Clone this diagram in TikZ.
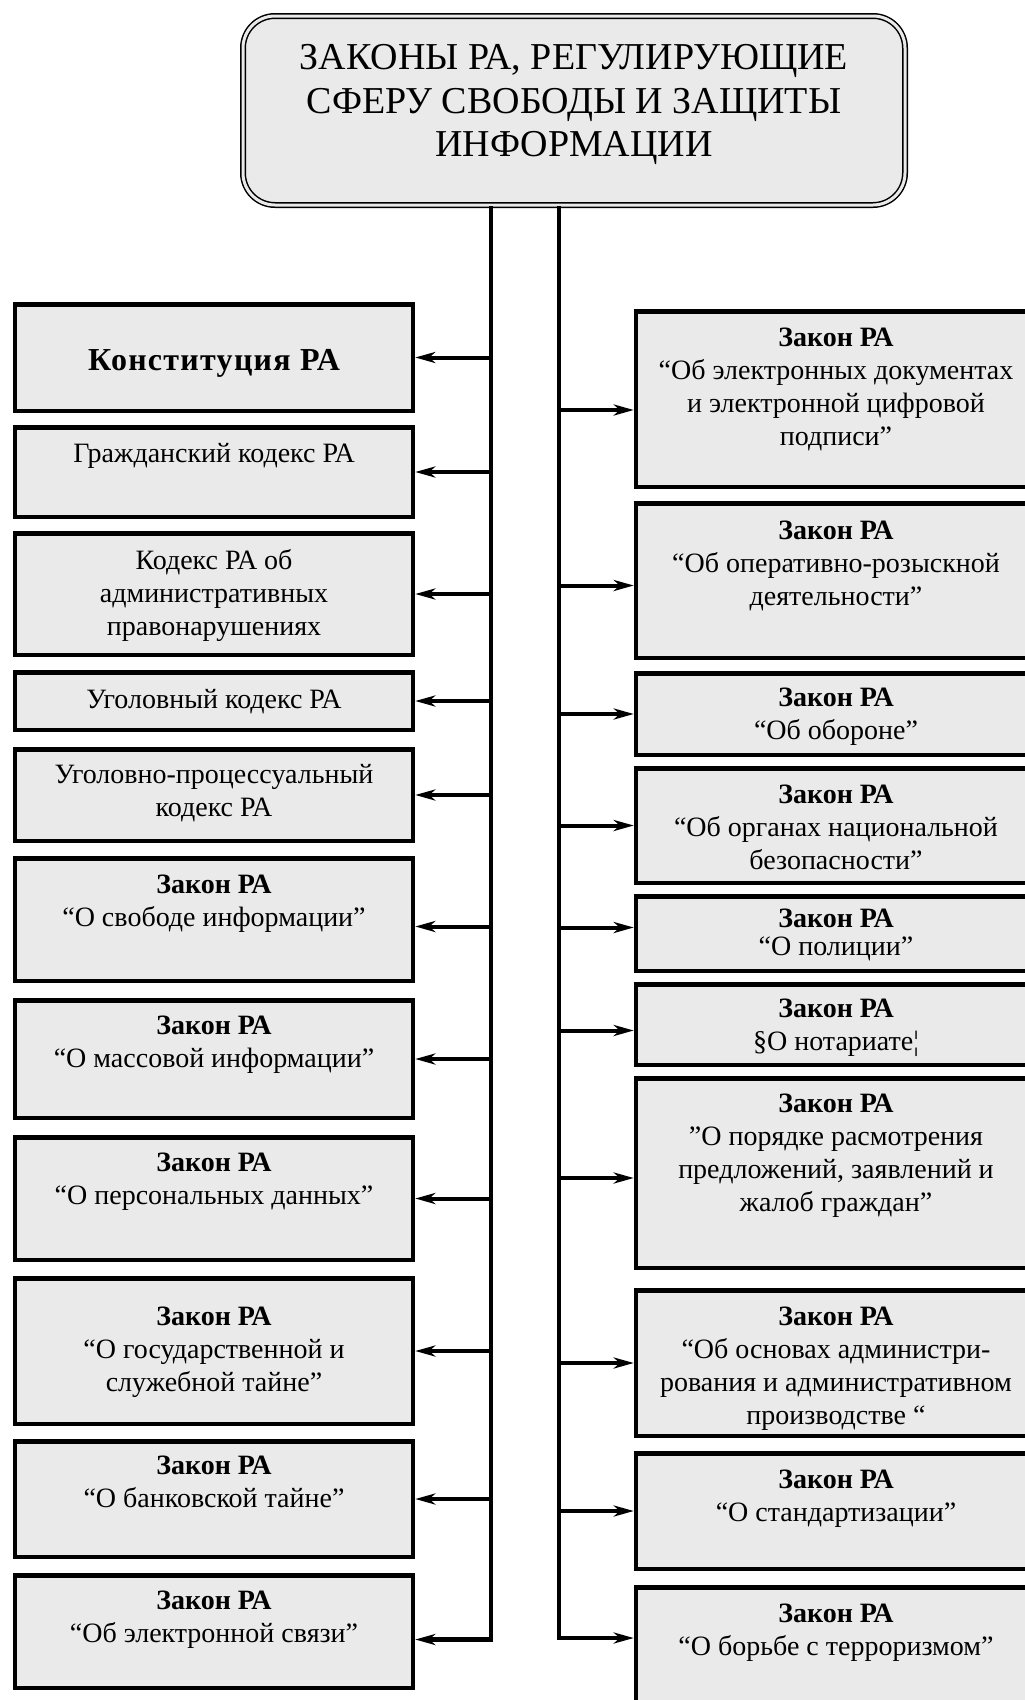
\documentclass[tikz,border=0pt]{standalone}
\usepackage{fontspec}
\setmainfont{Liberation Serif}
\usetikzlibrary{arrows.meta,calc}
\definecolor{boxgray}{RGB}{234,234,234}
\tikzset{
  lawbox/.style={draw=black, line width=4.5pt, fill=boxgray, rectangle, inner sep=0pt},
  leftbox/.style={lawbox, minimum width=398pt},
  rightbox/.style={lawbox, minimum width=398pt},
  titlebox/.style={draw=black, line width=1.5pt, double=boxgray, double distance=3pt,
    rounded corners=32pt, fill=boxgray, minimum width=662pt, minimum height=189pt, inner sep=0pt},
  lawtext/.style={align=center, anchor=north, inner sep=0pt, font=\fontsize{28}{33}\selectfont},
  trunk/.style={line width=4.5pt, line join=miter},
  arr/.style={line width=4pt, -{Stealth[length=20pt,width=11pt,inset=6pt]}},
}
\newcommand\fl{\rule{0pt}{28pt}}
\begin{document}
\begin{tikzpicture}[x=1pt,y=-1pt]
\useasboundingbox (0,0) rectangle (1025,1700);
\fill[white] (0,0) rectangle (1025,1700);
\clip (0,0) rectangle (1025,1700);

% title
\node[titlebox] (title) at (574,110.5) {};
\node[align=center, anchor=north, inner sep=0pt, font=\fontsize{38}{43.5}\selectfont] (titletext) at (574,29.5)
  {\rule{0pt}{40pt}ЗАКОНЫ РА, РЕГУЛИРУЮЩИЕ\\СФЕРУ СВОБОДЫ И ЗАЩИТЫ\\ИНФОРМАЦИИ};
\coordinate (tl) at (491,208);
\coordinate (tr) at (559,208);

% left boxes
\node[leftbox, minimum height=106.5pt] (L1) at (214,357.5) {};
\node[leftbox, minimum height=89.5pt]  (L2) at (214,472) {};
\node[leftbox, minimum height=121.5pt] (L3) at (214,594) {};
\node[leftbox, minimum height=57.5pt]  (L4) at (214,701) {};
\node[leftbox, minimum height=91.5pt]  (L5) at (214,795) {};
\node[leftbox, minimum height=122.5pt] (L6) at (214,919.5) {};
\node[leftbox, minimum height=117.5pt] (L7) at (214,1059) {};
\node[leftbox, minimum height=122.5pt] (L8) at (214,1198.5) {};
\node[leftbox, minimum height=145.5pt] (L9) at (214,1351) {};
\node[leftbox, minimum height=115.5pt] (L10) at (214,1499) {};
\node[leftbox, minimum height=112.5pt] (L11) at (214,1631.5) {};

\node[anchor=base, inner sep=0pt, font=\fontsize{32}{36}\selectfont\bfseries\addfontfeature{LetterSpace=4}] (L1t) at (214,370) {Конституция РА};
\node[lawtext] (L2t) at (214,434) {\fl Гражданский кодекс РА};
\node[lawtext] (L3t) at (214,541) {\fl Кодекс РА об\\административных\\правонарушениях};
\node[lawtext] (L4t) at (214,680) {\fl Уголовный кодекс РА};
\node[lawtext] (L5t) at (214,755.5) {\fl Уголовно-процессуальный\\кодекс РА};
\node[lawtext] (L6t) at (214,865) {\fl\textbf{Закон РА}\\“О свободе информации”};
\node[lawtext] (L7t) at (214,1006) {\fl\textbf{Закон РА}\\“О массовой информации”};
\node[lawtext] (L8t) at (214,1143) {\fl\textbf{Закон РА}\\“О персональных данных”};
\node[lawtext] (L9t) at (214,1297) {\fl\textbf{Закон РА}\\“О государственной и\\служебной тайне”};
\node[lawtext] (L10t) at (214,1446.5) {\fl\textbf{Закон РА}\\“О банковской тайне”};
\node[lawtext] (L11t) at (214,1581) {\fl\textbf{Закон РА}\\“Об электронной связи”};

% right boxes
\node[rightbox, minimum height=175.5pt] (R1) at (835,399) {};
\node[rightbox, minimum height=154.5pt] (R2) at (835,580.5) {};
\node[rightbox, minimum height=81.5pt]  (R3) at (835,714) {};
\node[rightbox, minimum height=114.5pt] (R4) at (835,825.5) {};
\node[rightbox, minimum height=74.5pt]  (R5) at (835,933.5) {};
\node[rightbox, minimum height=80.5pt]  (R6) at (835,1024.5) {};
\node[rightbox, minimum height=189.5pt] (R7) at (835,1173) {};
\node[rightbox, minimum height=145.5pt] (R8) at (835,1363) {};
\node[rightbox, minimum height=115.5pt] (R9) at (835,1511) {};
\node[rightbox, minimum height=135.5pt] (R10) at (835,1655) {};

\node[lawtext] (R1t) at (836,318) {\fl\textbf{Закон РА}\\“Об электронных документах\\и электронной цифровой\\подписи”};
\node[lawtext] (R2t) at (836,511.5) {\fl\textbf{Закон РА}\\“Об оперативно-розыскной\\деятельности”};
\node[lawtext] (R3t) at (836,678.5) {\fl\textbf{Закон РА}\\“Об обороне”};
\node[lawtext] (R4t) at (836,775) {\fl\textbf{Закон РА}\\“Об органах национальной\\безопасности”};
\node[lawtext] (R5t) at (836,899) {\fl\textbf{Закон РА}\\[-5pt]“О полиции”};
\node[lawtext] (R6t) at (836,989) {\fl\textbf{Закон РА}\\§О нотариате¦};
\node[lawtext] (R7t) at (836,1084) {\fl\textbf{Закон РА}\\”О порядке расмотрения\\предложений, заявлений и\\жалоб граждан”};
\node[lawtext] (R8t) at (836,1297) {\fl\textbf{Закон РА}\\“Об основах администри-\\рования и административном\\производстве “};
\node[lawtext] (R9t) at (836,1460.5) {\fl\textbf{Закон РА}\\“О стандартизации”};
\node[lawtext] (R10t) at (836,1594) {\fl\textbf{Закон РА}\\“О борьбе с терроризмом”};

% trunks with last arrows
\draw[arr, line width=4.5pt] (title.south -| tl) |- ([yshift=-8pt]L11.east);
\draw[arr, line width=4.5pt] (title.south -| tr) |- ([yshift=17pt]R10.west);

% left arrows
\draw[arr] (L1.east -| tl) -- (L1.east);
\draw[arr] (L2.east -| tl) -- (L2.east);
\draw[arr] (L3.east -| tl) -- (L3.east);
\draw[arr] (L4.east -| tl) -- (L4.east);
\draw[arr] (L5.east -| tl) -- (L5.east);
\draw[arr] ([yshift=-7pt]L6.east -| tl) -- ([yshift=-7pt]L6.east);
\draw[arr] (L7.east -| tl) -- (L7.east);
\draw[arr] (L8.east -| tl) -- (L8.east);
\draw[arr] (L9.east -| tl) -- (L9.east);
\draw[arr] (L10.east -| tl) -- (L10.east);

% right arrows
\draw[arr] ([yshift=-11pt]R1.west -| tr) -- ([yshift=-11pt]R1.west);
\draw[arr] ([yshift=-5pt]R2.west -| tr) -- ([yshift=-5pt]R2.west);
\draw[arr] (R3.west -| tr) -- (R3.west);
\draw[arr] (R4.west -| tr) -- (R4.west);
\draw[arr] ([yshift=6pt]R5.west -| tr) -- ([yshift=6pt]R5.west);
\draw[arr] ([yshift=-6pt]R6.west -| tr) -- ([yshift=-6pt]R6.west);
\draw[arr] ([yshift=-5pt]R7.west -| tr) -- ([yshift=-5pt]R7.west);
\draw[arr] (R8.west -| tr) -- (R8.west);
\draw[arr] (R9.west -| tr) -- (R9.west);
\end{tikzpicture}
\end{document}
